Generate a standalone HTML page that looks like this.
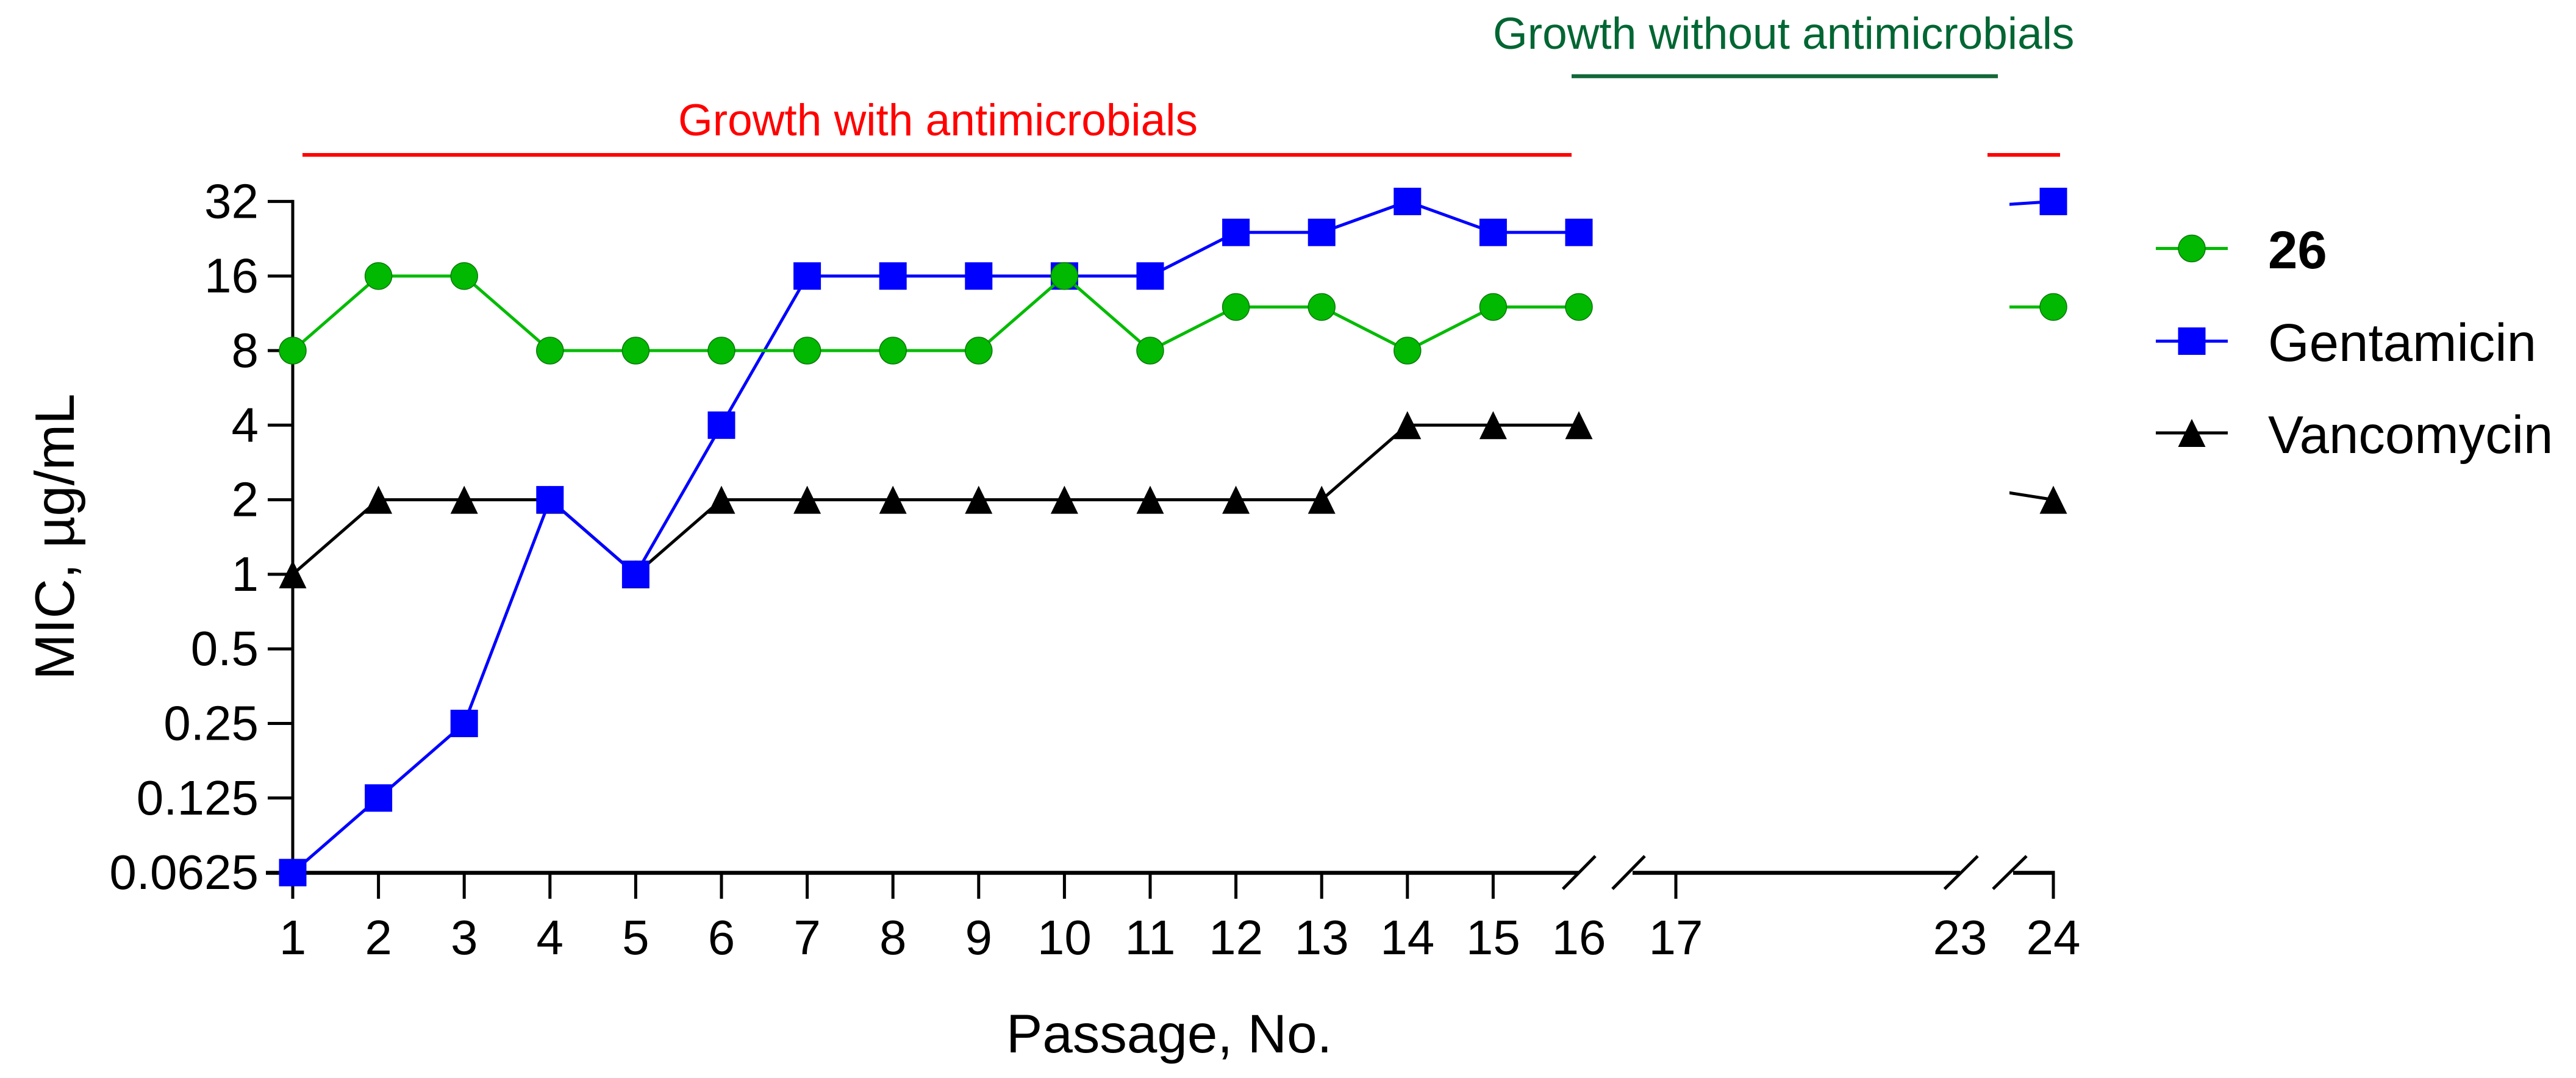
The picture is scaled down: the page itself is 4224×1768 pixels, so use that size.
<!DOCTYPE html>
<html lang="en">
<head>
<meta charset="utf-8">
<title>MIC by passage</title>
<style>
html,body{margin:0;padding:0;background:#fff;width:4224px;height:1768px;overflow:hidden}
svg{display:block}
text{font-family:"Liberation Sans",Arial,sans-serif;fill:#000}
</style>
</head>
<body>
<svg id="chart" xmlns="http://www.w3.org/2000/svg" width="4224" height="1768" viewBox="0 0 4224 1768">
  <defs>
    <clipPath id="break-clip">
      <rect x="0" y="0" width="2589" height="1768"/>
      <rect x="3295" y="0" width="929" height="1768"/>
    </clipPath>
  </defs>
  <rect x="0" y="0" width="4224" height="1768" fill="#fff"/>

  <text x="1112" y="222" font-size="73" style="fill:#ff0000">Growth with antimicrobials</text>
  <text x="2448" y="80" font-size="73" style="fill:#006633">Growth without antimicrobials</text>
  <line x1="496" x2="2577" y1="254" y2="254" stroke="#ff0000" stroke-width="6"/>
  <line x1="3259" x2="3378" y1="254" y2="254" stroke="#ff0000" stroke-width="6"/>
  <line x1="2577" x2="3276" y1="125" y2="125" stroke="#13683a" stroke-width="6.5"/>

  <g id="axes"></g>
  <g id="series"></g>

  <text transform="translate(121,1115) rotate(-90)" font-size="90.5">MIC, µg/mL</text>
  <text x="1650" y="1726" font-size="89">Passage, No.</text>

  <g id="legend"></g>
</svg>
<script>
const passages = [1,2,3,4,5,6,7,8,9,10,11,12,13,14,15,16,24];
const compound26 = [8,16,16,8,8,8,8,8,8,16,8,12,12,8,12,12,12];
const gentamicin = [0.0625,0.125,0.25,2,1,4,16,16,16,16,16,24,24,32,24,24,32];
const vancomycin = [1,2,2,2,1,2,2,2,2,2,2,2,2,4,4,4,2];
const yTickValues = [32,16,8,4,2,1,0.5,0.25,0.125,0.0625];
const xTickLabels = [1,2,3,4,5,6,7,8,9,10,11,12,13,14,15,16,17,23,24];
const xTickMarks = [1,2,3,4,5,6,7,8,9,10,11,12,13,14,15,17,24];

const NS = 'http://www.w3.org/2000/svg';
function make(tag, attrs, parent){
  const e = document.createElementNS(NS, tag);
  for (const k in attrs) e.setAttribute(k, attrs[k]);
  parent.appendChild(e);
  return e;
}
function xScale(p){
  if (p <= 16) return 480 + 140.6 * (p - 1);
  if (p <= 23) return 2748 + 77.67 * (p - 17);
  return 3214 + 153 * (p - 23);
}
function yScale(v){
  return 330.4 + 122.3 * (Math.log2(32) - Math.log2(v));
}

const axes = document.getElementById('axes');
const seriesGroup = document.getElementById('series');
const legend = document.getElementById('legend');

/* Y axis */
const yAxisLine = make('line', {x1:480,x2:480,y1:yScale(32)-2.5,y2:1474,stroke:'#000','stroke-width':5}, axes);


yTickValues.forEach(function(v){
  const t = make('line', {x1:439,x2:480,y1:yScale(v),y2:yScale(v),stroke:'#000','stroke-width':5}, axes);
  
  
  const l = make('text', {x:424,y:yScale(v)+27,'text-anchor':'end','font-size':80}, axes);
  l.textContent = String(v);
  
  
});

/* X axis segments separated by breaks */
[[436,2589],[2677,3214],[3301,3369.5]].forEach(function(s){
  const a = make('line', {x1:s[0],x2:s[1],y1:1431.5,y2:1431.5,stroke:'#000','stroke-width':6.5}, axes);
  
  
});
[[2562.7,2616],[2644,2697],[3188.5,3243],[3268,3323]].forEach(function(b){
  const m = make('line', {x1:b[0],y1:1458,x2:b[1],y2:1404,stroke:'#000','stroke-width':5}, axes);
  
  
});
xTickMarks.forEach(function(p){
  const t = make('line', {x1:xScale(p),x2:xScale(p),y1:1431,y2:1474,stroke:'#000','stroke-width':5}, axes);
  
  
});
xTickLabels.forEach(function(p){
  const l = make('text', {x:xScale(p),y:1565,'text-anchor':'middle','font-size':80}, axes);
  l.textContent = String(p);
  
  
});

/* Markers */
function drawMarker(kind, cx, cy, parent){
  let m;
  if (kind === 'circle') {
    m = make('circle', {cx:cx,cy:cy,r:22,fill:'#00b900',stroke:'#0a7a0a','stroke-width':1.5}, parent);
  } else if (kind === 'square') {
    m = make('rect', {x:cx-22.5,y:cy-22.5,width:45,height:45,fill:'#0000ff'}, parent);
  } else {
    m = make('polygon', {points:(cx)+','+(cy-23)+' '+(cx+22.5)+','+(cy+23)+' '+(cx-22.5)+','+(cy+23),fill:'#000'}, parent);
  }
  return m;
}

function drawSeries(name, values, color, kind){
  const g = make('g', {}, seriesGroup);
  
  
  const pts = values.map(function(v,i){ return xScale(passages[i]) + ',' + yScale(v); }).join(' ');
  const line = make('polyline', {points:pts,fill:'none',stroke:color,'stroke-width':5,'clip-path':'url(#break-clip)'}, g);
  
  
  values.forEach(function(v,i){
    const m = drawMarker(kind, xScale(passages[i]), yScale(v), g);
    
    
  });
}
drawSeries('vancomycin', vancomycin, '#000000', 'triangle');
drawSeries('gentamicin', gentamicin, '#0000ff', 'square');
drawSeries('26', compound26, '#00bb00', 'circle');

/* Legend */
function drawLegendEntry(label, y, baseline, color, kind, weight){
  const g = make('g', {}, legend);
  
  
  const ln = make('line', {x1:3535,x2:3653,y1:y,y2:y,stroke:color,'stroke-width':5}, g);
  
  
  const mk = drawMarker(kind, 3594, y, g);
  
  
  const tx = make('text', {x:3719,y:baseline,'font-size':87,'font-weight':weight}, g);
  tx.textContent = label;
  
  
}
drawLegendEntry('26', 407.5, 440, '#00bb00', 'circle', 'bold');
drawLegendEntry('Gentamicin', 559.5, 592, '#0000ff', 'square', 'normal');
drawLegendEntry('Vancomycin', 710, 743, '#000000', 'triangle', 'normal');
</script>
</body>
</html>
